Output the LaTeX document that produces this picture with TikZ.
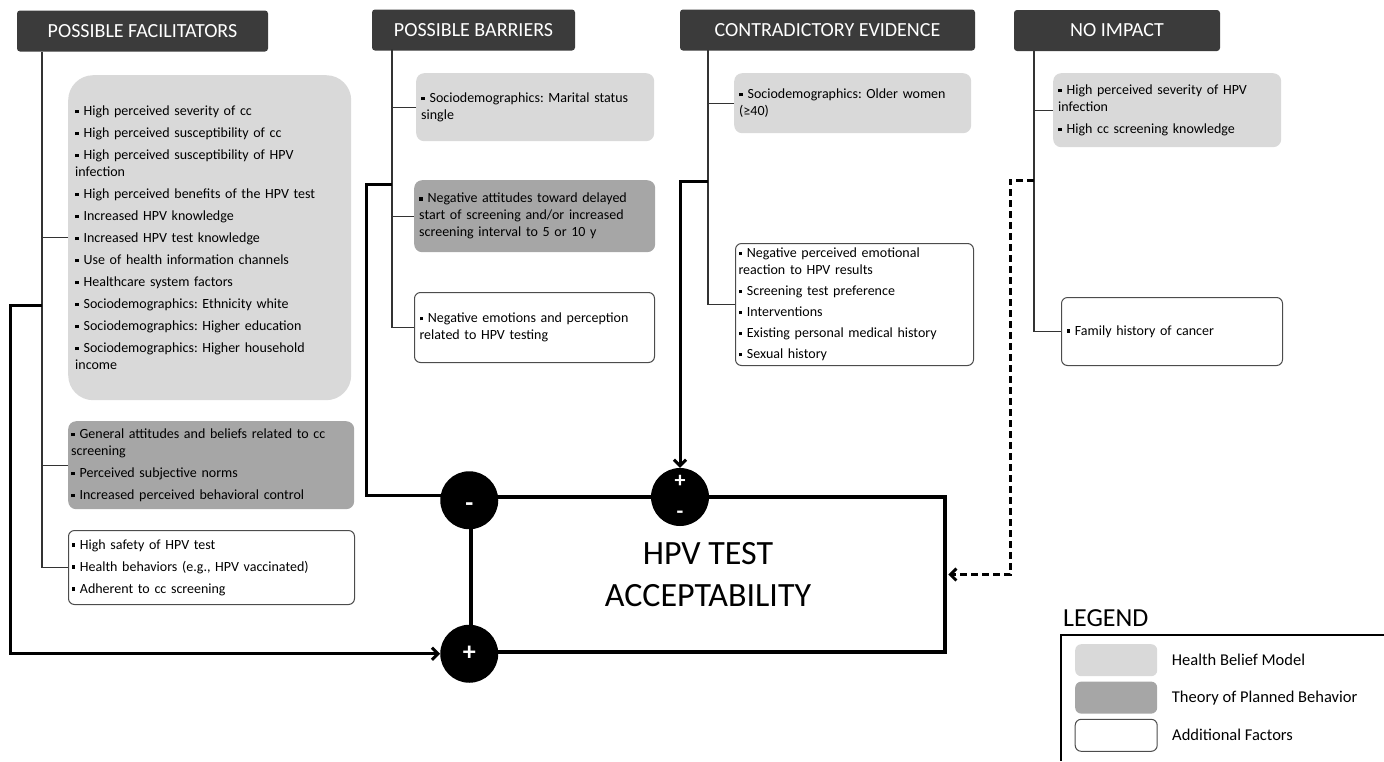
\documentclass[tikz,border=0pt]{standalone}
\usepackage{fontspec}
\setmainfont{Carlito}
\usetikzlibrary{positioning, arrows.meta}

\definecolor{hbmgray}{HTML}{D9D9D9}
\definecolor{tpbgray}{HTML}{A6A6A6}
\definecolor{hdrgray}{HTML}{3B3B3B}
\newcommand{\bul}{\raisebox{0.35ex}{\rule{3.4pt}{3.4pt}}\hspace{5pt}}
\newcommand{\itemfont}{\fontsize{14}{17}\selectfont}
\frenchspacing

\begin{document}
\begin{tikzpicture}[x=1pt, y=-1pt,
header/.style={fill=hdrgray, text=white, rounded corners=3pt, minimum height=41pt, font=\fontsize{20}{24}\selectfont},
factor/.style={anchor=north west, align=left, inner xsep=5pt, inner ysep=2pt, rounded corners=8pt, font=\itemfont},
hbm/.style={factor, fill=hbmgray},
tpb/.style={factor, fill=tpbgray},
extra/.style={factor, draw=black!70, line width=1pt, rounded corners=6pt},
trunk/.style={draw=black!80, line width=1.1pt},
thickline/.style={line width=3pt, >={Straight Barb[length=6pt,width=12pt]}},
sign/.style={circle, fill=black, text=white, minimum size=58pt, inner sep=0pt, font=\bfseries\fontsize{26}{30}\selectfont},
swatch/.style={minimum width=82pt, minimum height=32pt, rounded corners=6pt},
legtext/.style={right=11pt of #1, font=\fontsize{16.5}{20}\selectfont}
]
\useasboundingbox (0,0) rectangle (1384,761);

% column headers
\node[header, minimum width=251pt] (facil) at (142.5,31) {POSSIBLE FACILITATORS};
\node[header, minimum width=203pt] (barr) at (473.5,30) {POSSIBLE BARRIERS};
\node[header, minimum width=295pt] (contra) at (827.5,30) {CONTRADICTORY EVIDENCE};
\node[header, minimum width=206pt] (noimp) at (1117,30.5) {NO IMPACT};

% possible facilitators
\node[hbm, inner xsep=7pt, rounded corners=25pt, text width=269pt, minimum height=325pt] (fhbm) at (68,75) {%
\bul High perceived severity of cc\\[5pt]
\bul High perceived susceptibility of cc\\[5pt]
\bul High perceived susceptibility of HPV\\infection\\[5pt]
\bul High perceived benefits of the HPV test\\[5pt]
\bul Increased HPV knowledge\\[5pt]
\bul Increased HPV test knowledge\\[5pt]
\bul Use of health information channels\\[5pt]
\bul Healthcare system factors\\[5pt]
\bul Sociodemographics: Ethnicity white\\[5pt]
\bul Sociodemographics: Higher education\\[5pt]
\bul Sociodemographics: Higher household\\income};
\node[tpb, inner xsep=3pt, text width=280pt, minimum height=88pt] (ftpb) at (68,421) {%
\bul General attitudes and beliefs related to cc\\screening\\[5pt]
\bul Perceived subjective norms\\[5pt]
\bul Increased perceived behavioral control};
\node[extra, inner xsep=3pt, text width=280pt, minimum height=74pt] (fadd) at (68,530) {%
\bul High safety of HPV test\\[5pt]
\bul Health behaviors (e.g., HPV vaccinated)\\[5pt]
\bul Adherent to cc screening};

% possible barriers
\node[hbm, text width=228pt, minimum height=68pt] (bhbm) at (416,73) {%
\bul Sociodemographics: Marital status\\single};
\node[tpb, text width=231pt, minimum height=72pt] (btpb) at (414,180) {%
\bul Negative attitudes toward delayed\\start of screening and/or increased\\screening interval to 5 or 10 y};
\node[extra, text width=230pt, minimum height=70pt] (badd) at (414,292) {%
\bul Negative emotions and perception\\related to HPV testing};

% contradictory evidence
\node[hbm, text width=227pt, minimum height=60pt] (chbm) at (734,73) {%
\bul Sociodemographics: Older women\\(≥40)};
\node[extra, inner xsep=3pt, text width=232pt, minimum height=122pt] (cadd) at (735,243) {%
\bul Negative perceived emotional\\reaction to HPV results\\[4pt]
\bul Screening test preference\\[4pt]
\bul Interventions\\[4pt]
\bul Existing personal medical history\\[4pt]
\bul Sexual history};

% no impact
\node[hbm, text width=218pt, minimum height=74pt] (nhbm) at (1053,73) {%
\bul High perceived severity of HPV\\infection\\[5pt]
\bul High cc screening knowledge};
\node[extra, text width=211pt, minimum height=68pt] (nadd) at (1061,297) {%
\bul Family history of cancer};

% trunks and branches
\coordinate (ftop) at (42,52);
\coordinate (btop) at (392,49);
\coordinate (ctop) at (708,50);
\coordinate (ntop) at (1034,51);
\draw[trunk] (ftop) |- (fadd.west);
\draw[trunk] (fhbm.west) -- (fhbm.west -| ftop);
\draw[trunk] (ftpb.west) -- (ftpb.west -| ftop);
\draw[trunk] (btop) |- (badd.west);
\draw[trunk] (bhbm.west) -- (bhbm.west -| btop);
\draw[trunk] (btpb.west) -- (btpb.west -| btop);
\draw[trunk] (ctop) |- (cadd.west);
\draw[trunk] (chbm.west) -- (chbm.west -| ctop);
\draw[trunk] (ntop) |- (nadd.west);
\draw[trunk] (nhbm.west) -- (nhbm.west -| ntop);

% outcome
\coordinate (bjoin) at (392,184);
\node[draw, line width=3.5pt, minimum width=474pt, minimum height=155pt, align=center,
  font=\fontsize{34}{42}\selectfont] (hpv) at (708,574.5) {HPV TEST\\ACCEPTABILITY};
\draw[thickline] (bjoin) -- ++(-26,0) |- (hpv.north west);
\node[sign, label={[text=white, font=\bfseries\fontsize{26}{30}\selectfont, yshift=-7pt]center:-}] (minus) at ([yshift=-5pt]hpv.north west) {};
\node[sign] (plus) at (hpv.south west) {+};
\node[sign, align=center, font=\bfseries\fontsize{22}{31}\selectfont] (pm) at (680,497) {+\\-};

% influences
\coordinate (fjoin) at (42,305);
\coordinate (cjoin) at (708,181);
\coordinate (njoin) at (1034,180);
\draw[thickline, ->] (fjoin) -- ++(-32,0) |- (plus);
\draw[thickline, ->] (cjoin) -- ++(-28,0) -- (pm);
\draw[thickline, dashed, dash pattern=on 7pt off 4pt, ->, shorten >=1.5pt] (njoin) -- ++(-24,0) |- (hpv.east);

% legend
\node[anchor=west, inner sep=0pt, font=\fontsize{26}{30}\selectfont] (legend) at (1063,618) {LEGEND};
\draw[line width=1.2pt] (1384,635) -| (1061,761);
\node[swatch, fill=hbmgray, anchor=north west] (lhbm) at (1075,644) {};
\node[swatch, fill=tpbgray, below=5pt of lhbm] (ltpb) {};
\node[swatch, draw=black!70, line width=1pt, below=5pt of ltpb] (ladd) {};
\node[legtext=lhbm] {Health Belief Model};
\node[legtext=ltpb] {Theory of Planned Behavior};
\node[legtext=ladd] {Additional Factors};
\end{tikzpicture}
\end{document}
